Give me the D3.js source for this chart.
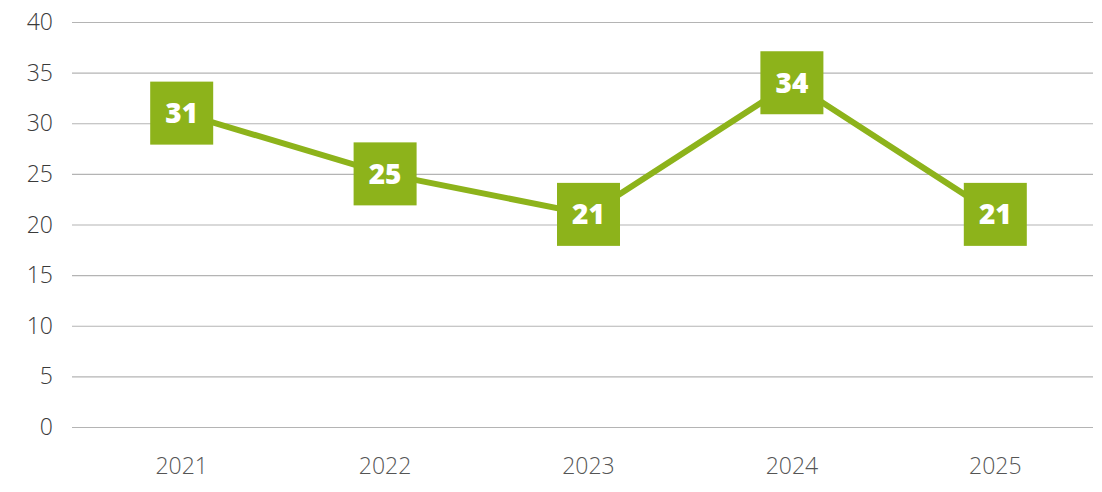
<!DOCTYPE html>
<html><head><meta charset="utf-8">
<script src="https://cdn.jsdelivr.net/npm/d3@7"></script>
<style>body{margin:0;background:#fff;}svg{display:block;}</style>
</head><body>
<svg id="c" width="1102" height="492"></svg>
<script>
const years = ["2021","2022","2023","2024","2025"];
const values = [31, 25, 21, 34, 21];
const yTicks = [0,5,10,15,20,25,30,35,40];

const svg = d3.select("#c");
const green = "#8db31b";
const x = d3.scaleBand().domain(years).range([80, 1097]).padding(0);
const y = d3.scaleLinear().domain([0, 40]).range([427, 22]);
const cx = d => x(d) + x.bandwidth()/2;

// gridlines
svg.append("g").selectAll("line").data(yTicks).join("line")
  .attr("x1", 72).attr("x2", 1093)
  .attr("y1", d => y(d)+0.5).attr("y2", d => y(d)+0.5)
  .attr("stroke", "#b4b4b4").attr("stroke-width", 1.2);

// y labels
svg.append("g").selectAll("text").data(yTicks).join("text")
  .attr("x", 53).attr("y", d => y(d)).attr("dy", "0.35em")
  .attr("text-anchor", "end")
  .attr("font-family", "'Open Sans', Lato, sans-serif").attr("font-weight", 300).attr("font-size", 23)
  .attr("fill", "#3a3a3a").text(d => d);

// x labels
svg.append("g").selectAll("text").data(years).join("text")
  .attr("x", d => cx(d)).attr("y", 466).attr("dy", "0.35em")
  .attr("text-anchor", "middle")
  .attr("font-family", "'Open Sans', Lato, sans-serif").attr("font-weight", 300).attr("font-size", 23)
  .attr("fill", "#555").text(d => d);

const pts = years.map((yr, i) => ({yr, v: values[i]}));
svg.append("path").datum(pts)
  .attr("d", d3.line().x(d => cx(d.yr)).y(d => y(d.v)))
  .attr("fill", "none").attr("stroke", green).attr("stroke-width", 6);

const s = 63;
const g = svg.append("g").selectAll("g").data(pts).join("g")
  .attr("transform", d => `translate(${cx(d.yr)},${y(d.v)})`);
g.append("rect").attr("x", -s/2).attr("y", -s/2).attr("width", s).attr("height", s).attr("fill", green);
g.append("text").attr("text-anchor", "middle").attr("dy", "0.36em")
  .attr("font-family", "'Open Sans', Lato, sans-serif").attr("font-weight", 800).attr("font-size", 28)
  .attr("fill", "#fff").text(d => d.v);
</script>
</body></html>
